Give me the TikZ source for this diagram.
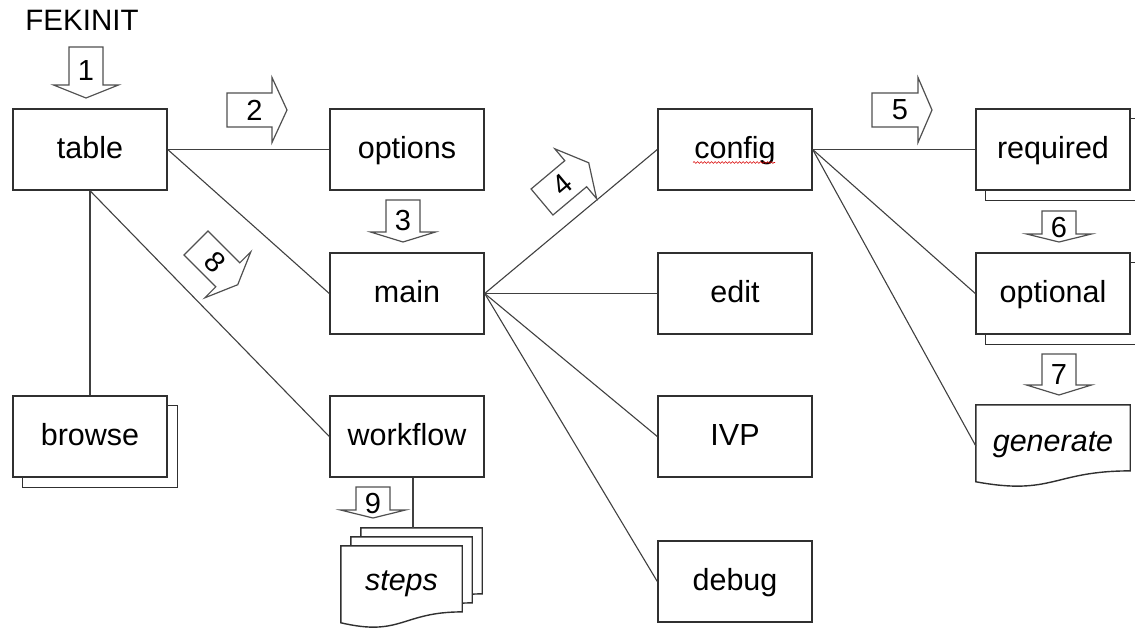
\documentclass[tikz,border=0pt]{standalone}
\usepackage{fontspec}
\setmainfont{Liberation Sans}
\usetikzlibrary{calc,backgrounds,decorations.pathmorphing}

\definecolor{boxline}{HTML}{303030}
\definecolor{linkgray}{HTML}{404040}
\definecolor{arrowgray}{HTML}{505050}

\tikzset{
  boxfont/.style={font=\fontsize{30.5}{36}\selectfont, text height=23pt, text depth=5pt},
  box/.style={boxfont, draw=boxline, fill=white, line width=1.4pt,
    minimum width=154pt, minimum height=81pt, inner sep=0pt},
  docnode/.style={minimum width=#1, minimum height=82pt, inner sep=0pt},
  docline/.style={draw=boxline, fill=white, line width=1.4pt, line join=miter},
  link/.style={draw=linkgray, line width=1.1pt},
  arrowbody/.style={draw=arrowgray, fill=white, line width=1.2pt, line join=miter},
  num/.style={font=\fontsize{29}{33}\selectfont, inner sep=0pt},
}

% block arrow: name, back centre, direction, shaft length, head length, digit, digit rotation
\newcommand\blockarrow[7]{%
  \begin{scope}[shift={(#2)}, rotate=#3]
    \draw[arrowbody] (0,-17) -- (#4,-17) -- (#4,-32.5) -- ({#4+#5},0)
      -- (#4,32.5) -- (#4,17) -- (0,17) -- cycle;
    \node[num, rotate=#7] (#1) at ({#4/2+5},0) {#6};
  \end{scope}}

% document outline (wavy lower edge) around a node
\newcommand\docoutline[1]{%
  \draw[docline] (#1.north west) -- (#1.north east)
    -- ($(#1.north east)!0.802!(#1.south east)$)
    .. controls ($(#1.north)!0.802!(#1.south)$) and ($(#1.north)!1.107!(#1.south)$)
    .. ($(#1.north west)!0.934!(#1.south west)$) -- cycle;}

% second sheet peeking out behind a box
\newcommand\sheetbehind[1]{%
  \draw[docline] ([shift={(10pt,-10pt)}]#1.north west) rectangle ([shift={(10pt,-10pt)}]#1.south east);}

\begin{document}
\begin{tikzpicture}[x=1pt,y=-1pt]
\useasboundingbox (0,0) rectangle (1135,628);
\clip (0,0) rectangle (1135,628);

% title
\node[font=\fontsize{29.5}{34}\selectfont, inner sep=0pt] (title) at (82,20) {FEKINIT};

% left column
\node[box] (table) at (90,149.5) {table};
\node[box] (browse) at (90,436.5) {browse};

% second column
\node[box] (options) at (407,149.5) {options};
\node[box] (main) at (407,293.5) {main};
\node[box] (workflow) at (407,436.5) {workflow};

% third column
\node[box] (config) at (735,149.5) {config};
\node[box] (edit) at (735,293.5) {edit};
\node[box] (ivp) at (735,436.5) {IVP};
\node[box] (debug) at (735,581.5) {debug};

% right column
\node[box] (required) at (1053,149.5) {required};
\node[box] (optional) at (1053,293.5) {optional};

% document shapes
\node[docnode=154pt] (gen) at (1053,446) {};
\node[docnode=121pt] (stepsc) at (421.5,569) {};
\node[docnode=121pt] (stepsb) at (411.5,578) {};
\node[docnode=121pt] (steps) at (401.5,587) {};
\begin{pgfonlayer}{background}
  \sheetbehind{browse}
  \sheetbehind{required}
  \sheetbehind{optional}
  \docoutline{gen}
  \docoutline{stepsc}
  \docoutline{stepsb}
  \docoutline{steps}
\end{pgfonlayer}
\node[boxfont, inner sep=0pt] (gentext) at ($(gen.north)+(0,38)$) {\itshape generate};
\node[boxfont, inner sep=0pt] (stepstext) at ($(steps.north)+(0,36)$) {\itshape steps};

% spelling mark under config
\draw[red!85!black, line width=0.6pt, decorate,
      decoration={snake, amplitude=0.9pt, segment length=3.5pt}]
  ($(config.center)+(-42,13)$) -- ($(config.center)+(40,13)$);

% connectors
\draw[link] (table.east) -- (options.west);
\draw[link] (table.east) -- (main.west);
\draw[link] (table.south) -- (browse.north);
\draw[link] (table.south) -- (workflow.west);
\draw[link] (main.east) -- (config.west);
\draw[link] (main.east) -- (edit.west);
\draw[link] (main.east) -- (ivp.west);
\draw[link] (main.east) -- (debug.west);
\draw[link] (config.east) -- (required.west);
\draw[link] (config.east) -- (optional.west);
\draw[link] (config.east) -- (gen.west);
\draw[link] ([xshift=6pt]workflow.south) -- ([xshift=6pt]workflow.south |- stepsc.north);

% numbered block arrows
\blockarrow{a1}{86,47}{-90}{38}{13}{1}{0}
\blockarrow{a2}{227,110}{0}{45}{15}{2}{0}
\blockarrow{a3}{403,200}{-90}{32}{10}{3}{0}
\blockarrow{a4}{542,202}{40}{44}{17}{4}{40}
\blockarrow{a5}{872,110}{0}{46}{14}{5}{0}
\blockarrow{a6}{1059,211}{-90}{23}{8}{6}{0}
\blockarrow{a7}{1059,354}{-90}{31}{10}{7}{0}
\blockarrow{a8}{196,243}{-45}{45}{14}{8}{-45}
\blockarrow{a9}{373,487}{-90}{23}{8}{9}{0}
\end{tikzpicture}
\end{document}
